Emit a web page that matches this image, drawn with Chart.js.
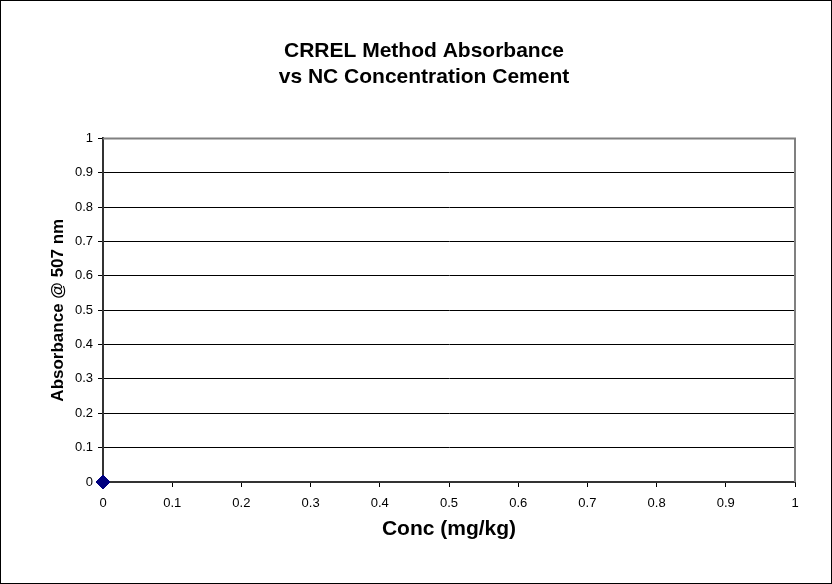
<!DOCTYPE html>
<html>
<head>
<meta charset="utf-8">
<script src="https://cdn.jsdelivr.net/npm/chart.js@4"></script>
<style>
  html, body { margin: 0; padding: 0; background: #fff; }
  #wrap { width: 832px; height: 584px; }
</style>
</head>
<body>
<div id="wrap"><canvas id="chart" width="832" height="584"></canvas></div>
<script>
// data
const titleLines = ['CRREL Method Absorbance', 'vs NC Concentration Cement'];
const xAxisTitle = 'Conc (mg/kg)';
const yAxisTitle = 'Absorbance @ 507 nm';
const concValues = [0];
const absorbanceValues = [0];
const axisMin = 0;
const axisMax = 1;
const axisStep = 0.1;

const points = concValues.map((x, i) => ({ x, y: absorbanceValues[i] }));
const FONT = 'Arial, "Liberation Sans", sans-serif';

// white fill, gray top/right plot border, thin black frame round the picture
const framePlugin = {
  id: 'frame',
  afterLayout(chart) {
    // the title sits a little right of the canvas centre
    const t = chart.titleBlock;
    if (t) { t.left += 8; t.right += 8; }
  },
  beforeDraw(chart) {
    const ctx = chart.ctx;
    ctx.save();
    ctx.fillStyle = '#fff';
    ctx.fillRect(0, 0, chart.width, chart.height);
    ctx.restore();
  },
  beforeDatasetsDraw(chart) {
    const { ctx, chartArea: a } = chart;
    ctx.save();
    ctx.strokeStyle = '#808080';
    ctx.lineWidth = 2;
    ctx.beginPath();
    ctx.moveTo(a.left, a.top);
    ctx.lineTo(a.right, a.top);
    ctx.lineTo(a.right, a.bottom);
    ctx.stroke();
    ctx.restore();
  },
  afterDraw(chart) {
    const ctx = chart.ctx;
    ctx.save();
    ctx.strokeStyle = '#000';
    ctx.lineWidth = 1;
    ctx.strokeRect(0.5, 0.5, chart.width - 1, chart.height - 1);
    ctx.restore();
  }
};

const tickFmt = v => String(Number(v.toFixed(1)));

new Chart(document.getElementById('chart'), {
  type: 'scatter',
  data: {
    datasets: [{
      label: 'Absorbance',
      data: points,
      pointStyle: 'rectRot',
      pointRadius: 7,
      pointHoverRadius: 7,
      backgroundColor: '#000080',
      borderColor: '#000080',
      clip: false,
    }],
  },
  options: {
    responsive: false,
    animation: false,
    layout: { padding: { left: 37, right: 37, top: 10, bottom: 0 } },
    plugins: {
      legend: { display: false },
      tooltip: { enabled: false },
      title: {
        display: true,
        text: titleLines,
        color: '#000',
        font: { family: FONT, size: 21, weight: 'bold', lineHeight: 1.2 },
        padding: { top: 29, bottom: 49 },
      },
    },
    scales: {
      x: {
        type: 'linear',
        min: axisMin,
        max: axisMax,
        afterFit(s) { s.height = 102; },
        ticks: {
          stepSize: axisStep,
          color: '#000',
          padding: 9,
          maxRotation: 0,
          font: { family: FONT, size: 13 },
          callback: tickFmt,
        },
        grid: { drawOnChartArea: false, drawTicks: true, tickLength: 5, tickColor: '#000' },
        border: { color: '#333', width: 2 },
        title: {
          display: true,
          text: xAxisTitle,
          color: '#000',
          font: { family: FONT, size: 21, weight: 'bold', lineHeight: 1.2 },
          padding: { top: 0, bottom: 42 },
        },
      },
      y: {
        type: 'linear',
        min: axisMin,
        max: axisMax,
        afterFit(s) { s.width = 66; },
        ticks: {
          stepSize: axisStep,
          color: '#000',
          padding: 5,
          font: { family: FONT, size: 13 },
          callback: tickFmt,
        },
        grid: {
          color: c => (c.tick && c.tick.value >= axisMax) ? 'rgba(0,0,0,0)' : '#000',
          lineWidth: 1,
          tickLength: 5,
          tickColor: '#000',
        },
        border: { color: '#333', width: 2 },
        title: {
          display: true,
          text: yAxisTitle,
          color: '#000',
          font: { family: FONT, size: 17, weight: 'bold', lineHeight: 1.2 },
          padding: { top: 11, bottom: 0 },
        },
      },
    },
  },
  plugins: [framePlugin],
});
</script>
</body>
</html>
